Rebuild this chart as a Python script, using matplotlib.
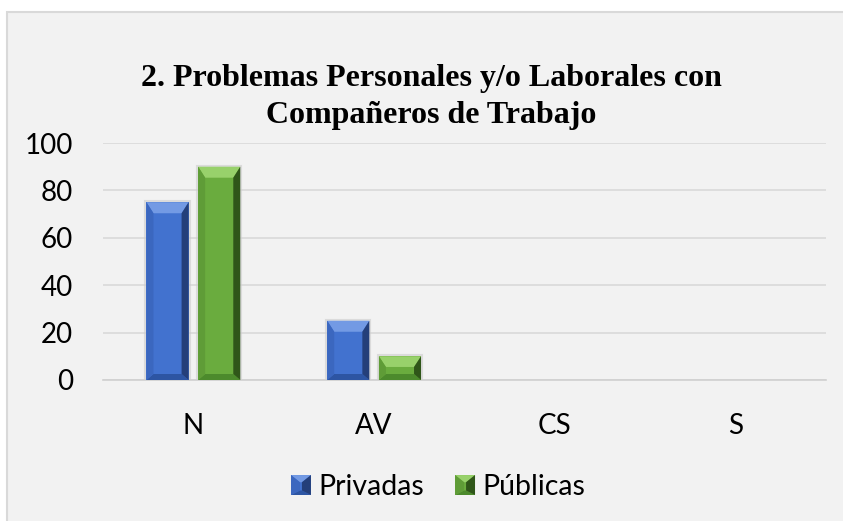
import matplotlib
matplotlib.use("Agg")
import matplotlib.pyplot as plt
from matplotlib.patches import Rectangle, Polygon
from matplotlib.legend_handler import HandlerPatch
import numpy as np

categories = ["N", "AV", "CS", "S"]
privadas = [75, 25, 0, 0]
publicas = [90, 10, 0, 0]
series_names = ["Privadas", "Públicas"]
title = "2. Problemas Personales y/o Laborales con\nCompañeros de Trabajo"
yticks = [0, 20, 40, 60, 80, 100]

W, H = 843, 521
fig = plt.figure(figsize=(W / 100, H / 100), dpi=100)
fig.patch.set_facecolor("white")

# chart area background
bg = Rectangle((7 / W, -0.01), 1.0, (H - 12) / H + 0.01, transform=fig.transFigure,
               facecolor="#f2f2f2", edgecolor="#d9d9d9", linewidth=1.5, zorder=-10)
fig.patches.append(bg)

ax_l, ax_r, ax_t, ax_b = 103, 826, 143, 380
ax = fig.add_axes([ax_l / W, (H - ax_b) / H, (ax_r - ax_l) / W, (ax_b - ax_t) / H])
ax.set_facecolor("none")
ax.set_zorder(1)

x = np.arange(len(categories))
bw = 0.233
off = 0.143

palettes = {
    "Privadas": dict(main="#4272cf", light="#739ae4", mid="#3b67bf", dark="#243f7a", bot="#2d55a3"),
    "Públicas": dict(main="#6aac3e", light="#98d16b", mid="#5f9c37", dark="#2f5619", bot="#4c8a2c"),
}

ax.set_xlim(-0.5, len(categories) - 0.5)
ax.set_ylim(0, 100)

bars1 = ax.bar(x - off, privadas, bw, color=palettes["Privadas"]["main"], zorder=3, label=series_names[0])
bars2 = ax.bar(x + off, publicas, bw, color=palettes["Públicas"]["main"], zorder=3, label=series_names[1])

def bevel_polys(x0, y0, x1, y1, bx, bt, bb):
    top = [(x0, y1), (x1, y1), (x1 - bx, y1 - bt), (x0 + bx, y1 - bt)]
    bot = [(x0, y0), (x1, y0), (x1 - bx, y0 + bb), (x0 + bx, y0 + bb)]
    left = [(x0, y0), (x0, y1), (x0 + bx, y1 - bt), (x0 + bx, y0 + bb)]
    right = [(x1, y0), (x1, y1), (x1 - bx, y1 - bt), (x1 - bx, y0 + bb)]
    return [(top, "light"), (bot, "bot"), (left, "mid"), (right, "dark")]

inv = ax.transData.inverted()
for bars, name in [(bars1, series_names[0]), (bars2, series_names[1])]:
    pal = palettes[name]
    for p in bars:
        if p.get_height() <= 0:
            continue
        (px0, py0) = ax.transData.transform((p.get_x(), p.get_y()))
        (px1, py1) = ax.transData.transform((p.get_x() + p.get_width(), p.get_y() + p.get_height()))
        h = py1 - py0
        bt = min(11.0, h * 0.45)
        bb = min(6.0, h * 0.3)
        bx = 7.0
        sh = Rectangle(p.get_xy(), p.get_width(), p.get_height(), facecolor="none",
                       edgecolor="#cccccc", linewidth=3, zorder=2.5, alpha=0.6)
        ax.add_patch(sh)
        for poly, key in bevel_polys(px0, py0, px1, py1, bx, bt, bb):
            dpoly = inv.transform(poly)
            ax.add_patch(Polygon(dpoly, closed=True, facecolor=pal[key], edgecolor="none", zorder=3.5))

ax.set_yticks(yticks)
ax.set_xticks(x)
ax.set_xticklabels(categories)
ax.yaxis.grid(True, color="#d9d9d9", linewidth=1.2, zorder=0)
ax.set_axisbelow(True)
for s in ["top", "right", "left"]:
    ax.spines[s].set_visible(False)
ax.spines["bottom"].set_color("#d0d0d0")
ax.spines["bottom"].set_linewidth(1.2)
ax.tick_params(axis="both", length=0, labelsize=20, labelcolor="black")
ax.tick_params(axis="y", pad=21.5)
ax.tick_params(axis="x", pad=24)
for lab in ax.get_xticklabels() + ax.get_yticklabels():
    lab.set_fontfamily("Lato")

fig.text(431 / W, 1 - 97 / H, title, ha="center", va="center", fontsize=23,
         fontweight="bold", family="Liberation Serif", linespacing=1.35)

class BevelHandler(HandlerPatch):
    def __init__(self, pal):
        super().__init__()
        self.pal = pal
    def create_artists(self, legend, orig_handle, xdescent, ydescent, width, height, fontsize, trans):
        s = min(width, height)
        x0 = -xdescent + (width - s) / 2
        y0 = -ydescent + (height - s) / 2
        x1, y1 = x0 + s, y0 + s
        b = s * 0.45
        arts = [Rectangle((x0, y0), s, s, facecolor=self.pal["main"], edgecolor="none", transform=trans)]
        for poly, key in bevel_polys(x0, y0, x1, y1, b, b * 0.8, b * 0.5):
            arts.append(Polygon(poly, closed=True, facecolor=self.pal[key], edgecolor="none", transform=trans))
        return arts

leg = fig.legend(handles=[bars1, bars2], labels=series_names, loc="center",
                 bbox_to_anchor=(438 / W, 1 - 487 / H), ncol=2, frameon=False,
                 prop={"family": "Lato", "size": 20.5}, handlelength=0.7, handleheight=0.7,
                 handletextpad=0.25, columnspacing=1.1,
                 handler_map={bars1: BevelHandler(palettes["Privadas"]),
                              bars2: BevelHandler(palettes["Públicas"])})

fig.savefig("out.png", dpi=100, facecolor=fig.get_facecolor())
